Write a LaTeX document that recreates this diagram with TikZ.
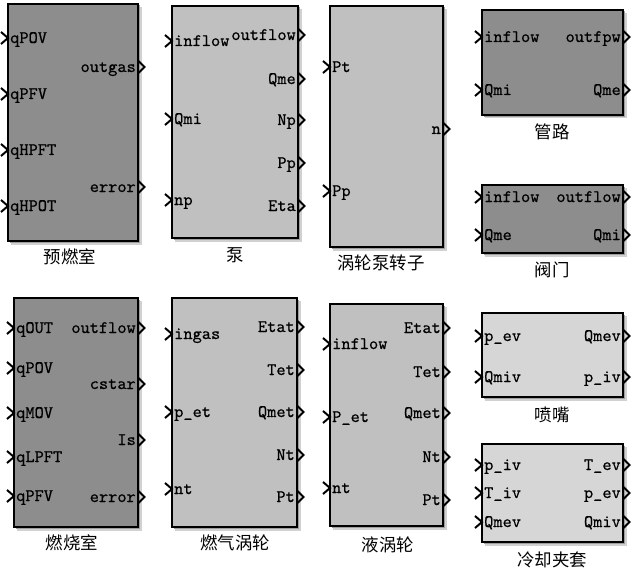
\documentclass[tikz,border=0pt]{standalone}
\usepackage{fontspec}
\newfontfamily\portfont{lmmono10-regular.otf}[FakeBold=0.6]
\newfontfamily\cjk{Noto Sans CJK SC}
\definecolor{dkgray}{RGB}{141,141,141}
\definecolor{ltgray}{RGB}{192,192,192}
\definecolor{xlgray}{RGB}{214,214,214}
\tikzset{
  blockbox/.style={draw=black, line width=1.3pt},
  shadowa/.style={fill=black!18},
  shadowb/.style={fill=black!38},
  portlbl/.style={font=\portfont\fontsize{17.6}{18}\selectfont, inner sep=0pt},
  cjklbl/.style={font=\cjk\fontsize{17.5}{18}\selectfont, inner sep=0pt},
  chev/.style={line width=2pt, line join=miter, line cap=butt},
}
\newcounter{portno}
% block: name, x1, y1, x2, y2, fill, label x, label y, label
\newcommand\blk[9]{%
  \fill[shadowa] (#2+3,#3+3) rectangle (#4+3.5,#5+3.5);
  \fill[shadowb] (#2+1.5,#3+1.5) rectangle (#4+2,#5+2);
  \draw[blockbox, fill=#6] (#2,#3) rectangle (#4,#5);
  \node[cjklbl] (#1) at (#7,#8) {#9};
}
\newcommand\inp[3]{%
  \stepcounter{portno}%
  \draw[chev] (#1-7,#2-6) -- (#1,#2) -- (#1-7,#2+6);
  \node[portlbl, anchor=base west] (pin\theportno) at (#1+2,#2+5) {#3};
}
\newcommand\outp[3]{%
  \stepcounter{portno}%
  \draw[chev] (#1+0.5,#2-6) -- (#1+6.5,#2) -- (#1+0.5,#2+6);
  \node[portlbl, anchor=base east] (pout\theportno) at (#1-2,#2+5) {#3};
}
\begin{document}
\begin{tikzpicture}[x=1bp,y=-1bp]
\useasboundingbox (0,0) rectangle (637,571);
% 预燃室
\blk{b1}{8}{4}{138}{241}{dkgray}{70}{257}{预燃室}
\inp{8}{38}{qPOV}\inp{8}{94}{qPFV}\inp{8}{150}{qHPFT}\inp{8}{206}{qHPOT}
\outp{138}{67}{outgas}\outp{138}{187}{error}
% 泵
\blk{b2}{172}{6}{298}{238}{ltgray}{235}{255}{泵}
\inp{172}{41}{inflow}\inp{172}{119}{Qmi}\inp{172}{200}{np}
\outp{298}{35}{outflow}\outp{298}{79}{Qme}\outp{298}{120}{Np}\outp{298}{163}{Pp}\outp{298}{206}{Eta}
% 涡轮泵转子
\blk{b3}{330}{6}{443}{247}{ltgray}{381}{263}{涡轮泵转子}
\inp{330}{67}{Pt}\inp{330}{191}{Pp}
\outp{443}{129}{n}
% 管路
\blk{b4}{482}{10}{623}{115}{dkgray}{552}{132}{管路}
\inp{482}{37}{inflow}\inp{482}{90}{Qmi}
\outp{623}{37}{outfpw}\outp{623}{90}{Qme}
% 阀门
\blk{b5}{482}{185}{623}{253}{dkgray}{552}{270}{阀门}
\inp{482}{197}{inflow}\inp{482}{235}{Qme}
\outp{623}{197}{outflow}\outp{623}{235}{Qmi}
% 燃烧室
\blk{b6}{14}{298}{138}{527}{dkgray}{72}{543}{燃烧室}
\inp{14}{328}{qOUT}\inp{14}{368}{qPOV}\inp{14}{413}{qMOV}\inp{14}{457}{qLPFT}\inp{14}{496}{qPFV}
\outp{138}{328}{outflow}\outp{138}{384}{cstar}\outp{138}{440}{Is}\outp{138}{497}{error}
% 燃气涡轮
\blk{b7}{172}{298}{297}{527}{ltgray}{235}{543}{燃气涡轮}
\inp{172}{334}{ingas}\inp{172}{412}{p\_et}\inp{172}{489}{nt}
\outp{297}{327}{Etat}\outp{297}{370}{Tet}\outp{297}{412}{Qmet}\outp{297}{455}{Nt}\outp{297}{497}{Pt}
% 液涡轮
\blk{b8}{330}{304}{443}{526}{ltgray}{388}{545}{液涡轮}
\inp{330}{344}{inflow}\inp{330}{417}{P\_et}\inp{330}{488}{nt}
\outp{443}{328}{Etat}\outp{443}{372}{Tet}\outp{443}{413}{Qmet}\outp{443}{457}{Nt}\outp{443}{500}{Pt}
% 喷嘴
\blk{b9}{482}{313}{623}{397}{xlgray}{552}{415}{喷嘴}
\inp{482}{336}{p\_ev}\inp{482}{377}{Qmiv}
\outp{623}{336}{Qmev}\outp{623}{377}{p\_iv}
% 冷却夹套
\blk{b10}{482}{444}{623}{542}{xlgray}{552}{560}{冷却夹套}
\inp{482}{465}{p\_iv}\inp{482}{493}{T\_iv}\inp{482}{522}{Qmev}
\outp{623}{465}{T\_ev}\outp{623}{493}{p\_ev}\outp{623}{522}{Qmiv}
\end{tikzpicture}
\end{document}
